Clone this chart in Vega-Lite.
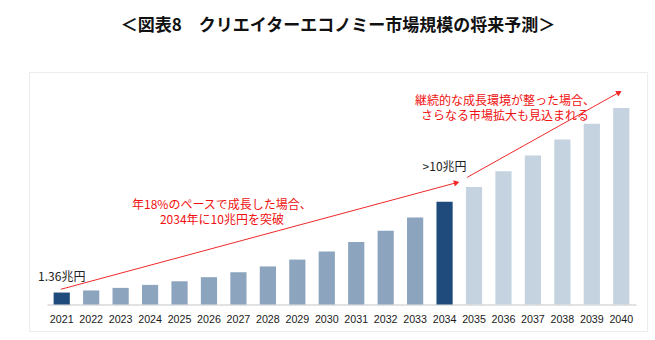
{
  "$schema": "https://vega.github.io/schema/vega-lite/v6.json",
  "width": 618,
  "height": 259,
  "autosize": {"type": "none"},
  "padding": {"left": 29, "top": 72, "right": 8, "bottom": 9},
  "background": "white",
  "config": {"view": {"stroke": "#ececec", "strokeWidth": 1}, "font": "Noto Sans CJK JP"},
  "title": {
    "text": "＜図表8　クリエイターエコノミー市場規模の将来予測＞",
    "fontSize": 17, "fontWeight": "bold", "font": "Noto Sans CJK JP", "color": "#111111",
    "anchor": "middle", "baseline": "bottom", "offset": 20
  },
  "datasets": {
    "bars": [
      {"year": "2021", "value": 1.36, "group": "highlight"},
      {"year": "2022", "value": 1.60, "group": "base"},
      {"year": "2023", "value": 1.89, "group": "base"},
      {"year": "2024", "value": 2.23, "group": "base"},
      {"year": "2025", "value": 2.64, "group": "base"},
      {"year": "2026", "value": 3.11, "group": "base"},
      {"year": "2027", "value": 3.67, "group": "base"},
      {"year": "2028", "value": 4.33, "group": "base"},
      {"year": "2029", "value": 5.11, "group": "base"},
      {"year": "2030", "value": 6.03, "group": "base"},
      {"year": "2031", "value": 7.12, "group": "base"},
      {"year": "2032", "value": 8.40, "group": "base"},
      {"year": "2033", "value": 9.91, "group": "base"},
      {"year": "2034", "value": 11.69, "group": "highlight"},
      {"year": "2035", "value": 13.38, "group": "extended"},
      {"year": "2036", "value": 15.17, "group": "extended"},
      {"year": "2037", "value": 16.96, "group": "extended"},
      {"year": "2038", "value": 18.78, "group": "extended"},
      {"year": "2039", "value": 20.56, "group": "extended"},
      {"year": "2040", "value": 22.35, "group": "extended"}
    ],
    "arrows": [
      {"id": "a1", "x": 2020.97, "y": 1.73, "x2": 2034.41, "y2": 13.86},
      {"id": "a2", "x": 2034.77, "y": 14.47, "x2": 2039.93, "y2": 24.14}
    ],
    "blackLabels": [
      {"x": 2021, "y": 3.16, "label": "1.36兆円"},
      {"x": 2034, "y": 15.6, "label": ">10兆円"}
    ],
    "redLabels": [
      {"x": 2026.44, "y": 11.35, "label": "年18%のペースで成長した場合、\n2034年に10兆円を突破"},
      {"x": 2036.05, "y": 23.17, "label": "継続的な成長環境が整った場合、\nさらなる市場拡大も見込まれる"}
    ]
  },
  "layer": [
    {
      "data": {"name": "bars"},
      "mark": {"type": "bar"},
      "encoding": {
        "x": {
          "field": "year", "type": "ordinal",
          "scale": {"range": [18, 607], "paddingInner": 0.45, "paddingOuter": 0.225},
          "axis": {
            "title": null, "labelAngle": 0, "domainColor": "#d9d9d9", "domainWidth": 1.5,
            "ticks": false, "tickSize": 0, "labelPadding": 9.5, "labelFontSize": 10.7,
            "labelFont": "Liberation Sans", "labelColor": "#1a1a1a", "offset": -26.5, "grid": false
          }
        },
        "y": {"field": "value", "type": "quantitative", "scale": {"domain": [0, 26.45], "range": [232.5, 0], "nice": false}, "axis": null},
        "color": {
          "field": "group", "type": "nominal",
          "scale": {"domain": ["highlight", "base", "extended"], "range": ["#1f4b7c", "#8da4bf", "#c5d3e0"]},
          "legend": null
        }
      }
    },
    {
      "data": {"name": "arrows"},
      "mark": {"type": "rule", "color": "#f02828", "strokeWidth": 1},
      "encoding": {
        "x": {"field": "x", "type": "quantitative", "scale": {"domain": [2020.5, 2040.5], "range": [18, 607], "nice": false, "zero": false}, "axis": null},
        "y": {"field": "y", "type": "quantitative", "scale": {"domain": [0, 26.45], "range": [232.5, 0], "nice": false}, "axis": null},
        "x2": {"field": "x2"},
        "y2": {"field": "y2"}
      }
    },
    {
      "data": {"name": "arrows"},
      "transform": [{"filter": "datum.id == 'a1'"}],
      "mark": {"type": "point", "shape": "triangle-up", "filled": true, "color": "#f02828", "size": 40, "angle": 74.9, "opacity": 1},
      "encoding": {
        "x": {"field": "x2", "type": "quantitative", "scale": {"domain": [2020.5, 2040.5], "range": [18, 607], "nice": false, "zero": false}, "axis": null},
        "y": {"field": "y2", "type": "quantitative", "scale": {"domain": [0, 26.45], "range": [232.5, 0], "nice": false}, "axis": null}
      }
    },
    {
      "data": {"name": "arrows"},
      "transform": [{"filter": "datum.id == 'a2'"}],
      "mark": {"type": "point", "shape": "triangle-up", "filled": true, "color": "#f02828", "size": 40, "angle": 60.8, "opacity": 1},
      "encoding": {
        "x": {"field": "x2", "type": "quantitative", "scale": {"domain": [2020.5, 2040.5], "range": [18, 607], "nice": false, "zero": false}, "axis": null},
        "y": {"field": "y2", "type": "quantitative", "scale": {"domain": [0, 26.45], "range": [232.5, 0], "nice": false}, "axis": null}
      }
    },
    {
      "data": {"name": "blackLabels"},
      "mark": {"type": "text", "align": "center", "baseline": "middle", "fontSize": 12, "color": "#222222", "font": "Noto Sans CJK JP"},
      "encoding": {
        "x": {"field": "x", "type": "quantitative", "scale": {"domain": [2020.5, 2040.5], "range": [18, 607], "nice": false, "zero": false}, "axis": null},
        "y": {"field": "y", "type": "quantitative", "scale": {"domain": [0, 26.45], "range": [232.5, 0], "nice": false}, "axis": null},
        "text": {"field": "label"}
      }
    },
    {
      "data": {"name": "redLabels"},
      "mark": {"type": "text", "align": "center", "baseline": "middle", "fontSize": 12, "color": "#f01010", "font": "Noto Sans CJK JP", "lineBreak": "\n", "lineHeight": 15.5},
      "encoding": {
        "x": {"field": "x", "type": "quantitative", "scale": {"domain": [2020.5, 2040.5], "range": [18, 607], "nice": false, "zero": false}, "axis": null},
        "y": {"field": "y", "type": "quantitative", "scale": {"domain": [0, 26.45], "range": [232.5, 0], "nice": false}, "axis": null},
        "text": {"field": "label"}
      }
    }
  ],
  "resolve": {"scale": {"x": "independent"}, "axis": {"x": "independent"}}
}
